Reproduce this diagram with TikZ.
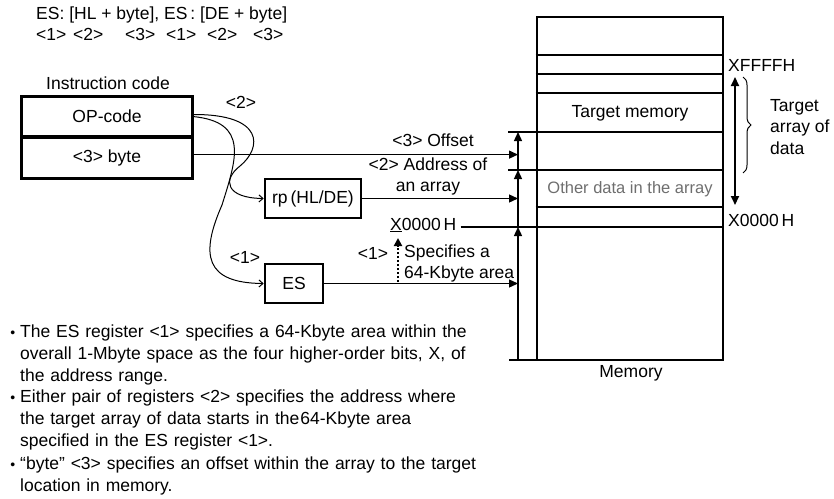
\documentclass[tikz,border=0pt]{standalone}
\usepackage{fontspec}
\setmainfont{Liberation Sans}
\usetikzlibrary{arrows.meta, positioning, decorations.pathreplacing}
\definecolor{othergray}{RGB}{110,110,110}
\newcommand{\bulletmark}{\raisebox{0.8pt}{\fontsize{14}{14}\selectfont •}\hspace{5pt}}

\begin{document}
\begin{tikzpicture}[x=1pt, y=-1pt,
  every node/.style={font=\fontsize{17.5}{21.7}\selectfont, inner sep=0pt},
  cell/.style={rectangle, draw, line width=1.6pt, minimum width=170pt, minimum height=39.5pt},
  reg/.style={rectangle, draw, line width=2.6pt, minimum height=39pt},
  memline/.style={line width=1.2pt},
  arrow/.style={-{Triangle[length=9pt, width=8pt]}, line width=1.3pt},
  curv/.style={-{Straight Barb[length=4pt, width=7pt]}, line width=1pt},
  notes/.style={anchor=north west, align=left, text width=480pt}
]
\useasboundingbox (0,0) rectangle (834,498);

% addressing format
\node[anchor=west] (fmt) at (36,15) {ES: [HL + byte], ES\,: [DE + byte]};
\foreach \x/\t in {36/1, 73/2, 125/3, 166/1, 207/2, 253/3}
  \node[anchor=west] (mark\x) at (\x,34) {<\t>};

% instruction code
\node (inst) at (108,83) {Instruction code};
\node[cell] (op) at (107,116.5) {OP-code};
\node[cell, below=0pt of op] (byte) {<3> byte};
\draw[line width=2.8pt] (op.north west) rectangle (byte.south east);

\node[reg, minimum width=96pt] (rp) at (313,198.5) {rp\,(HL/DE)};
\node[reg, minimum width=58pt] (es) at (294,283.5) {ES};
\node (two) at (241,102) {<2>};
\node (one) at (245,257) {<1>};

\draw[curv] ([yshift=2pt]op.east) .. controls (265,114) and (262,148) .. (240,166)
  .. controls (222,180) and (226,198) .. (rp.west);
\draw[curv] (op.east) .. controls (250,122) and (236,160) .. (222,205)
  .. controls (200,255) and (205,283) .. (es.west);

% memory
\node[draw, line width=2.8pt, minimum width=186pt, minimum height=343pt] (mem) at (630,188.5) {};
\foreach \y in {55,74,93,132,170,207,227} {
  \coordinate (h) at (0,\y);
  \draw[memline] (mem.west |- h) -- (mem.east |- h);
}
\node (tgt) at (630,113) {Target memory};
\node[text=othergray, font=\fontsize{16.5}{20}\selectfont] (oth) at (630,189) {Other data in the array};
\node (memlbl) at (631,373) {Memory};

% right side
\node[anchor=west] (xhigh) at (728,65) {XFFFFH};
\node[anchor=west] (xlow) at (728,220) {X0000\,H};
\coordinate (atop) at (735,77);
\coordinate (abot) at (735,205);
\draw[{Triangle[length=9pt, width=8pt]}-{Triangle[length=9pt, width=8pt]}, line width=1.8pt] (atop) -- (abot);
\draw[decorate, decoration={brace, amplitude=8pt}, line width=1pt] (743,77) -- (743,173);
\node[anchor=west, align=left] (tad) at (770,127) {Target\\array of\\data};

% address build-up
\coordinate (lvoff) at (518,132);
\coordinate (lvarr) at (518,170);
\coordinate (lvbase) at (518,227);
\coordinate (lvbot) at (518,360);
\draw[memline] ([xshift=-10pt]lvoff) -- (lvoff -| mem.west);
\draw[memline] ([xshift=-10pt]lvarr) -- (lvarr -| mem.west);
\draw[memline] ([xshift=-9pt]lvbot) -- (lvbot -| mem.west);
\draw[arrow] (lvbot) -- (lvbase);
\draw[arrow] (lvbase) -- (lvarr);
\draw[arrow] (lvarr) -- (lvoff);

\node[anchor=west] (xbase) at (390,225) {\underline{X}0000\,H};
\coordinate (xbend) at ([xshift=4pt]xbase.east);
\draw[memline] (xbend |- lvbase) -- (lvbase -| mem.west);

\coordinate (bytefrom) at ([yshift=3pt]byte.east);
\draw[arrow] (bytefrom) -- (bytefrom -| lvoff);
\draw[arrow] (rp.east) -- (rp.east -| lvoff);
\draw[arrow] (es.east) -- (es.east -| lvoff);

\node (offl) at (433,140) {<3> Offset};
\node[align=center] (addrl) at (428,176.5) {<2> Address of\\an array};
\node (onel) at (373,253) {<1>};
\node[anchor=west, align=left] (spec) at (404,263.5) {Specifies a\\64-Kbyte area};
\coordinate (dotbot) at (398,282);
\coordinate (dottop) at (398,238);
\draw[dotted, line width=2pt, -{Triangle[length=8pt, width=8pt]}] (dotbot) -- (dottop);

% notes
\node[notes] (n1) at (20,325) {\leavevmode\llap{\bulletmark}The ES register <1> specifies a 64-Kbyte area within the\\overall 1-Mbyte space as the four higher-order bits, X, of\\the address range.};
\node[notes] (n2) at (20,390) {\leavevmode\llap{\bulletmark}Either pair of registers <2> specifies the address where\\the target array of data starts in the\kern1pt 64-Kbyte area\\specified in the ES register <1>.};
\node[notes] (n3) at (20,457) {\leavevmode\llap{\bulletmark}“byte” <3> specifies an offset within the array to the target\\location in memory.};
\end{tikzpicture}
\end{document}
